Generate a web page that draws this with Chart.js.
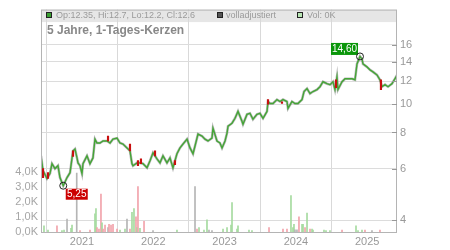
<!DOCTYPE html>
<html>
<head>
<meta charset="utf-8">
<script src="https://cdn.jsdelivr.net/npm/chart.js@4.4.1/dist/chart.umd.min.js"></script>
<style>
  html, body { margin: 0; padding: 0; background: #fff; }
  #wrap { width: 450px; height: 250px; position: relative; }
</style>
</head>
<body>
<div id="wrap"><canvas id="myChart"></canvas></div>
<script>
// chart texts
const titleText = '5 Jahre, 1-Tages-Kerzen';
const legendTexts = ['Op:12.35, Hi:12.7, Lo:12.2, Cl:12.6', 'volladjustiert', 'Vol: 0K'];

// ticks
const yearTicks = [2021, 2022, 2023, 2024, 2025];
const priceTicks = [4, 6, 8, 10, 12, 14, 16];
const volTicks = [0, 1, 2, 3, 4];

// closing prices (decimal year, price)
const priceYears = [
  2020.425, 2020.453, 2020.509, 2020.551, 2020.579, 2020.621, 2020.663, 2020.691, 2020.737, 2020.790,
  2020.832, 2020.874, 2020.902, 2020.930, 2020.944, 2020.972, 2021.000, 2021.014, 2021.070, 2021.112,
  2021.154, 2021.182, 2021.210, 2021.252, 2021.295, 2021.351, 2021.393, 2021.435, 2021.491, 2021.533,
  2021.575, 2021.631, 2021.673, 2021.701, 2021.715, 2021.771, 2021.813, 2021.856, 2021.912, 2021.954,
  2021.996, 2022.052, 2022.094, 2022.136, 2022.192, 2022.234, 2022.276, 2022.332, 2022.374, 2022.417,
  2022.473, 2022.515, 2022.557, 2022.585, 2022.627, 2022.683, 2022.725, 2022.767, 2022.823, 2022.837,
  2022.893, 2022.935, 2022.964, 2023.006, 2023.034, 2023.048, 2023.104, 2023.146, 2023.188, 2023.244,
  2023.258, 2023.314, 2023.356, 2023.398, 2023.454, 2023.496, 2023.539, 2023.595, 2023.609, 2023.637,
  2023.679, 2023.735, 2023.777, 2023.819, 2023.875, 2023.889, 2023.945, 2023.987, 2024.029, 2024.086,
  2024.114, 2024.156, 2024.198, 2024.240, 2024.296, 2024.338, 2024.380, 2024.436, 2024.478, 2024.520,
  2024.548, 2024.576, 2024.590, 2024.647, 2024.689, 2024.731, 2024.787, 2024.829, 2024.857, 2024.899,
  2024.927, 2024.941, 2024.997, 2025.039, 2025.081, 2025.137, 2025.179, 2025.208, 2025.250, 2025.292,
  2025.348, 2025.390, 2025.418
];
const priceClose = [
  6.65, 5.92, 5.56, 5.78, 6.25, 6.01, 6.15, 5.60, 5.25, 5.60,
  5.82, 6.92, 7.02, 6.54, 6.29, 6.15, 5.78, 6.25, 6.65, 6.25,
  6.54, 7.59, 7.36, 7.36, 7.48, 7.48, 7.36, 7.59, 7.65, 7.36,
  7.30, 7.08, 6.92, 6.25, 6.15, 6.29, 6.29, 6.25, 6.05, 6.40,
  6.81, 6.49, 6.29, 6.65, 6.29, 6.54, 6.05, 6.76, 7.08, 7.30,
  7.59, 7.08, 6.76, 7.19, 7.90, 7.78, 7.59, 7.48, 7.65, 8.28,
  7.48, 7.36, 7.08, 7.48, 7.96, 8.41, 8.61, 8.95, 9.45, 8.74,
  8.54, 9.23, 9.31, 8.88, 9.23, 9.31, 8.95, 9.45, 10.22, 10.06,
  10.06, 10.38, 10.22, 10.38, 10.22, 9.68, 10.22, 10.06, 10.06, 10.38,
  11.06, 11.32, 10.88, 11.06, 11.23, 11.49, 11.95, 11.77, 11.68, 11.95,
  11.23, 12.43, 11.23, 11.95, 12.24, 12.24, 12.24, 12.14, 13.76, 14.60,
  14.31, 13.76, 13.44, 13.13, 12.92, 12.62, 12.14, 11.49, 11.68, 11.49,
  11.77, 12.24, 12.60
];

// red (falling) candles, low / high
const redYears = [2020.453, 2020.523, 2020.874, 2021.365, 2021.673, 2021.785, 2021.827, 2022.024, 2022.304, 2023.609, 2023.805, 2024.562, 2025.193];
const redLow   = [5.60, 5.56, 6.62, 7.48, 6.92, 6.15, 6.25, 6.65, 6.20, 10.00, 10.06, 11.40, 11.23];
const redHigh  = [6.01, 5.82, 6.92, 7.78, 7.30, 6.40, 6.49, 6.92, 6.40, 10.38, 10.20, 12.14, 12.14];

// volume in thousand, with direction of the day
const volYears = [
  2020.467, 2020.523, 2020.649, 2020.719, 2020.748, 2020.790, 2020.846, 2020.860, 2020.926, 2020.972,
  2021.112, 2021.182, 2021.196, 2021.210, 2021.238, 2021.266, 2021.281, 2021.295, 2021.323, 2021.365,
  2021.379, 2021.407, 2021.435, 2021.491, 2021.533, 2021.603, 2021.631, 2021.673, 2021.701, 2021.729,
  2021.757, 2021.771, 2021.785, 2021.813, 2021.870, 2021.996, 2022.332, 2022.585, 2022.613, 2022.641,
  2022.711, 2022.753, 2022.781, 2022.823, 2022.978, 2023.034, 2023.090, 2023.104, 2023.174, 2023.188,
  2023.342, 2023.384, 2023.623, 2023.819, 2023.875, 2023.931, 2023.959, 2023.973, 2023.987, 2024.015,
  2024.043, 2024.086, 2024.100, 2024.128, 2024.156, 2024.198, 2024.226, 2024.240, 2024.394, 2024.422,
  2024.478, 2024.647, 2024.843, 2024.871, 2024.927, 2024.969, 2025.067, 2025.179
];
const volK = [
  0.4, 0.13, 0.4, 0.1, 0.13, 0.85, 0.25, 0.45, 3.9, 0.1,
  0.13, 1.2, 1.55, 0.3, 0.2, 2.5, 0.6, 0.2, 0.45, 0.3,
  0.5, 0.45, 0.5, 0.2, 0.13, 0.2, 0.85, 0.2, 1.3, 1.55,
  1.0, 0.3, 3.0, 0.25, 0.7, 0.1, 0.13, 3.0, 0.2, 0.3,
  0.13, 0.8, 0.13, 0.1, 0.2, 0.3, 0.45, 1.95, 0.2, 0.4,
  0.13, 0.1, 0.3, 0.2, 0.2, 2.4, 0.3, 0.5, 0.15, 0.15,
  1.0, 0.5, 0.5, 0.3, 1.25, 0.2, 0.2, 0.13, 0.13, 0.1,
  0.1, 0.13, 0.4, 0.1, 0.13, 0.13, 0.1, 0.13
];
const volSide = [
  'u', 'u', 'd', 'u', 'u', 'n', 'u', 'u', 'n', 'd',
  'd', 'u', 'u', 'd', 'd', 'd', 'u', 'd', 'd', 'n',
  'd', 'd', 'd', 'd', 'u', 'u', 'n', 'd', 'u', 'u',
  'd', 'u', 'd', 'u', 'd', 'n', 'u', 'n', 'd', 'u',
  'u', 'u', 'n', 'n', 'u', 'u', 'u', 'u', 'u', 'u',
  'u', 'u', 'd', 'd', 'd', 'u', 'u', 'u', 'n', 'n',
  'd', 'u', 'u', 'd', 'u', 'd', 'u', 'u', 'u', 'u',
  'u', 'd', 'u', 'u', 'u', 'd', 'n', 'd'
];

const sideColors = { u: '#a6dba0', d: '#f2a3ab', n: '#b5b5b5' };
const FONT = "'Liberation Sans', Arial, sans-serif";

function fmt(v) {
  return v.toFixed(2).replace('.', ',');
}

// band, frame, texts and min/max markers
const framePlugin = {
  id: 'frame',
  beforeDraw(chart) {
    const ctx = chart.ctx, a = chart.chartArea;
    ctx.save();
    ctx.fillStyle = '#e6e6e6';
    ctx.fillRect(a.left, a.top, a.right - a.left, 12.5);
    ctx.restore();
  },
  afterDraw(chart) {
    const ctx = chart.ctx, a = chart.chartArea;
    const xs = chart.scales.x, ps = chart.scales.price;
    ctx.save();

    // box
    ctx.strokeStyle = '#b4b4b4';
    ctx.lineWidth = 1;
    ctx.strokeRect(a.left + 0.5, a.top + 0.5, a.right - a.left - 1, a.bottom - a.top);

    // small ticks on the price axis
    ctx.strokeStyle = '#999';
    priceTicks.forEach(v => {
      const y = Math.round(ps.getPixelForValue(v)) + 0.5;
      ctx.beginPath();
      ctx.moveTo(a.right - 5, y);
      ctx.lineTo(a.right, y);
      ctx.stroke();
    });

    // legend row
    const boxes = [
      { x: 46, fill: '#3aa032', text: legendTexts[0], tx: 56 },
      { x: 217, fill: '#555555', text: legendTexts[1], tx: 226 },
      { x: 297, fill: '#b8e6b4', text: legendTexts[2], tx: 307 },
    ];
    ctx.font = '9px ' + FONT;
    ctx.textBaseline = 'alphabetic';
    boxes.forEach(b => {
      ctx.fillStyle = b.fill;
      ctx.fillRect(b.x, 12, 6, 6);
      ctx.strokeStyle = '#222';
      ctx.strokeRect(b.x + 0.5, 12.5, 5, 5);
      ctx.fillStyle = '#9a9a9a';
      ctx.fillText(b.text, b.tx, 17.5);
    });

    // title
    ctx.font = 'bold 12px ' + FONT;
    ctx.fillStyle = '#888';
    ctx.fillText(titleText, 47, 34);

    // high and low markers
    let hi = 0, lo = 0;
    for (let i = 0; i < priceClose.length; i++) {
      if (priceClose[i] > priceClose[hi]) hi = i;
      if (priceClose[i] < priceClose[lo]) lo = i;
    }
    ctx.font = '10px ' + FONT;
    ctx.textAlign = 'center';
    ctx.textBaseline = 'middle';

    let px = xs.getPixelForValue(priceYears[hi]);
    let py = ps.getPixelForValue(priceClose[hi]);
    ctx.fillStyle = '#0a960a';
    ctx.fillRect(px - 29, py - 13.5, 27, 12);
    ctx.fillStyle = '#fff';
    ctx.fillText(fmt(priceClose[hi]), px - 15.5, py - 7.3);
    ctx.strokeStyle = '#222';
    ctx.beginPath();
    ctx.arc(px, py, 3.5, 0, Math.PI * 2);
    ctx.stroke();

    px = xs.getPixelForValue(priceYears[lo]);
    py = ps.getPixelForValue(priceClose[lo]);
    ctx.fillStyle = '#cc0000';
    ctx.fillRect(px + 2.5, py + 3, 22, 11);
    ctx.fillStyle = '#fff';
    ctx.fillText(fmt(priceClose[lo]), px + 13.5, py + 8.7);
    ctx.strokeStyle = '#222';
    ctx.beginPath();
    ctx.arc(px, py, 3.5, 0, Math.PI * 2);
    ctx.stroke();

    ctx.restore();
  }
};

const ctx = document.getElementById('myChart').getContext('2d');

const pricePoints = priceYears.map((x, i) => ({ x: x, y: priceClose[i] }));

const options = {
  type: 'bar',
  data: {
    datasets: [
      {
        // green candle bodies
        type: 'line',
        data: pricePoints,
        yAxisID: 'price',
        borderColor: '#44a636',
        borderWidth: 1.4,
        pointRadius: 0,
        tension: 0,
        order: 1
      },
      {
        // grey wicks underneath
        type: 'line',
        data: pricePoints,
        yAxisID: 'price',
        borderColor: 'rgba(130,130,130,0.55)',
        borderWidth: 2.6,
        pointRadius: 0,
        tension: 0,
        order: 2
      },
      {
        type: 'bar',
        data: redYears.map((x, i) => ({ x: x, y: [redLow[i], redHigh[i]] })),
        yAxisID: 'price',
        backgroundColor: '#c80f0f',
        barThickness: 1.5,
        grouped: false,
        order: 0
      },
      {
        type: 'bar',
        data: volYears.map((x, i) => ({ x: x, y: volK[i] })),
        yAxisID: 'vol',
        backgroundColor: volSide.map(s => sideColors[s]),
        barThickness: 1,
        grouped: false,
        order: 3
      }
    ]
  },
  options: {
    responsive: true,
    maintainAspectRatio: false,
    animation: false,
    layout: { padding: { top: 7, left: 0, right: 0, bottom: 0 } },
    plugins: { legend: { display: false }, tooltip: { enabled: false } },
    scales: {
      x: {
        type: 'linear',
        offset: false,
        min: 2020.425,
        max: 2025.418,
        afterBuildTicks: s => { s.ticks = yearTicks.map(v => ({ value: v })); },
        afterFit: s => { s.height = 18; },
        grid: { color: '#d9d9d9', drawTicks: false },
        border: { display: false },
        ticks: {
          callback: v => String(v),
          color: '#999',
          font: { family: FONT, size: 11 },
          padding: 3,
          autoSkip: false,
          maxRotation: 0
        }
      },
      price: {
        type: 'logarithmic',
        position: 'right',
        min: 3.64,
        max: 21.15,
        afterBuildTicks: s => { s.ticks = priceTicks.map(v => ({ value: v })); },
        afterFit: s => { s.width = 53; },
        grid: { color: '#dcdcdc', drawTicks: false },
        border: { display: false },
        ticks: {
          callback: v => String(v),
          color: '#999',
          font: { family: FONT, size: 11 },
          padding: 3
        }
      },
      vol: {
        type: 'linear',
        position: 'left',
        min: 0,
        max: 14.7,
        afterBuildTicks: s => { s.ticks = volTicks.map(v => ({ value: v })); },
        afterFit: s => { s.width = 41; },
        grid: { display: false, drawTicks: false },
        border: { display: false },
        ticks: {
          callback: v => v.toFixed(1).replace('.', ',') + 'K',
          color: '#a6a6a6',
          font: { family: FONT, size: 11 },
          padding: 3
        }
      }
    }
  },
  plugins: [framePlugin]
};

const myChart = new Chart(ctx, options);
</script>
</body>
</html>
